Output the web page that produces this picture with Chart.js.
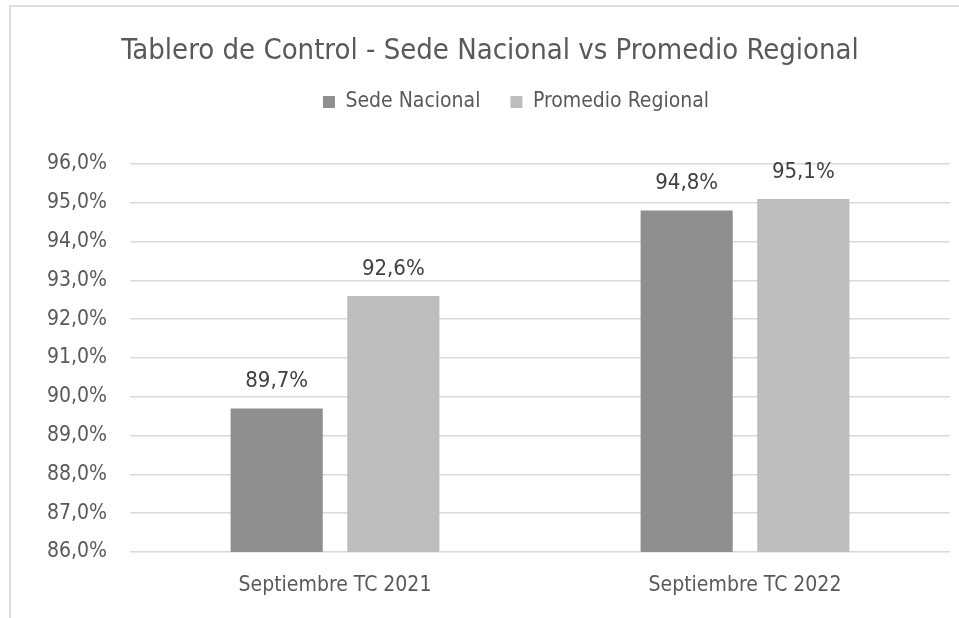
<!DOCTYPE html>
<html>
<head>
<meta charset="utf-8">
<script src="https://cdn.jsdelivr.net/npm/chart.js@4/dist/chart.umd.min.js"></script>
<style>
  html, body { margin: 0; padding: 0; background: #ffffff; }
  #wrap { position: relative; width: 959px; height: 618px; overflow: hidden; }
  #frame { position: absolute; left: 9px; top: 5px; width: 1000px; height: 700px; border-left: 2px solid #dedede; border-top: 2px solid #dedede; }
  #c { position: absolute; left: 0; top: 0; }
</style>
</head>
<body>
<div id="wrap">
  <div id="frame"></div>
  <canvas id="c" width="959" height="618"></canvas>
</div>
<script>
const categories = ["Septiembre TC 2021", "Septiembre TC 2022"];
const sedeNacional = [89.7, 94.8];
const promedioRegional = [92.6, 95.1];
const seriesNames = ["Sede Nacional", "Promedio Regional"];
const yTicks = [86, 87, 88, 89, 90, 91, 92, 93, 94, 95, 96];
const titleText = "Tablero de Control - Sede Nacional vs Promedio Regional";

const FONT = "'Liberation Sans Narrow', 'DejaVu Sans Condensed', sans-serif";
const fmt = v => v.toFixed(1).replace('.', ',') + '%';

const dataLabels = {
  id: 'dataLabels',
  afterDatasetsDraw(chart) {
    const ctx = chart.ctx;
    ctx.save();
    ctx.font = "22px " + FONT;
    ctx.fillStyle = '#404040';
    ctx.textAlign = 'center';
    ctx.textBaseline = 'middle';
    chart.data.datasets.forEach((ds, i) => {
      chart.getDatasetMeta(i).data.forEach((el, j) => {
        ctx.fillText(fmt(ds.data[j]), el.x, el.y - 27);
      });
    });
    ctx.restore();
  }
};

const shiftLegend = {
  id: 'shiftLegend',
  afterLayout(chart) {
    const lg = chart.legend;
    if (lg) { lg.left += 26; lg.right += 26; }
  }
};

new Chart(document.getElementById('c'), {
  type: 'bar',
  data: {
    labels: categories,
    datasets: [
      { label: seriesNames[0], data: sedeNacional, backgroundColor: '#8f8f8f',
        categoryPercentage: 0.569, barPercentage: 0.79 },
      { label: seriesNames[1], data: promedioRegional, backgroundColor: '#bdbdbd',
        categoryPercentage: 0.569, barPercentage: 0.79 }
    ]
  },
  options: {
    responsive: false,
    animation: false,
    layout: { padding: { left: 30, right: 9, top: 0, bottom: 0 } },
    plugins: {
      tooltip: { enabled: false },
      title: {
        display: true, text: titleText, color: '#595959',
        font: { family: FONT, size: 29, weight: 'normal', lineHeight: 1 },
        padding: { top: 36.5, bottom: -4 }
      },
      legend: {
        display: true, position: 'top',
        labels: {
          color: '#595959', boxWidth: 12, boxHeight: 12, padding: 30,
          font: { family: FONT, size: 21 }
        }
      },
      subtitle: {
        display: true, text: ' ', weight: 500,
        font: { family: FONT, size: 10, lineHeight: 1 },
        padding: { top: 0, bottom: 31.5 }
      }
    },
    scales: {
      x: {
        grid: { display: false },
        border: { display: false },
        ticks: { color: '#595959', font: { family: FONT, size: 21 }, padding: 13 },
        afterFit: s => { s.height = 66; }
      },
      y: {
        min: yTicks[0], max: yTicks[yTicks.length - 1],
        afterBuildTicks: s => { s.ticks = yTicks.map(v => ({ value: v })); },
        grid: { color: '#d9d9d9', lineWidth: 1.5, drawTicks: false },
        border: { display: false },
        ticks: { color: '#595959', font: { family: FONT, size: 21 }, padding: 23, callback: v => fmt(v) },
        afterFit: s => { s.width = 100; }
      }
    }
  },
  plugins: [dataLabels, shiftLegend]
});
</script>
</body>
</html>
